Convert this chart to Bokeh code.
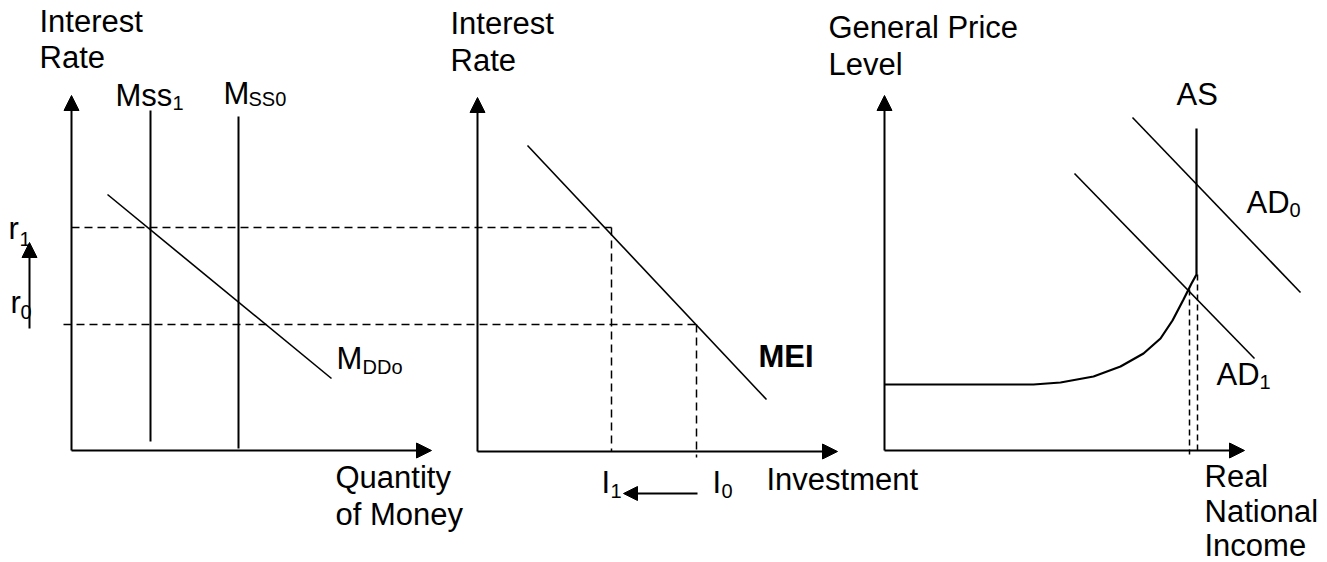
from bokeh.plotting import figure
from bokeh.models import Range1d, Arrow, NormalHead
from bokeh.core.properties import value
from bokeh.embed import file_html
from bokeh.resources import INLINE

# ---- diagram data (reference pixel space, y grows downward) ----
# axes: origin and arrow tips of the three panels
axis_origin_x = [71, 477, 884]
axis_origin_y = [450, 451, 450]
axis_ytip = [95, 97, 95]
axis_xtip = [431, 837, 1244]

# Panel 1: money market
mss_x = [150, 238]
mss_top = [110, 116]
mss_bottom = [441, 448]
mdd_x = [107, 331]
mdd_y = [194, 378]

# interest-rate levels (r1, r0) and their dashed guides
rate_y = [227, 324]
rate_dash_x0 = [71, 63]
rate_dash_x1 = [611, 696]

# Panel 2: investment
mei_x = [527, 766]
mei_y = [145, 399]
inv_x = [611, 696]          # I1, I0
inv_dash_bottom = [451, 457]

# Panel 3: AD / AS
as_x = [884, 1033, 1060, 1093, 1120, 1143, 1160, 1172, 1183, 1191, 1196, 1196]
as_y = [384, 384, 382, 376, 366, 353, 338, 320, 299, 283, 274, 128]
ad0_x = [1132, 1300]
ad0_y = [117, 292]
ad1_x = [1074, 1254]
ad1_y = [173, 358]
y_dash_x = [1189, 1197]
y_dash_top = [289, 274]
y_dash_bottom = [454, 454]

# shift arrows
r_arrow = (29, 328, 29, 242)
i_arrow = (697, 493, 623, 493)

W, H = 1327, 562
p = figure(width=W, height=H, x_range=Range1d(0, W), y_range=Range1d(H, 0),
           output_backend="svg", toolbar_location=None, min_border=0,
           x_axis_type=None, y_axis_type=None)
p.grid.visible = False
p.outline_line_color = None
p.background_fill_color = "white"
p.border_fill_color = "white"

BLACK = "black"

def arrow(x0, y0, x1, y1, lw=2, size=15):
    p.add_layout(Arrow(end=NormalHead(size=size, fill_color=BLACK, line_color=BLACK, line_width=1),
                       x_start=x0, y_start=y0, x_end=x1, y_end=y1,
                       line_color=BLACK, line_width=lw))

# axes
for ox, oy, yt, xt in zip(axis_origin_x, axis_origin_y, axis_ytip, axis_xtip):
    arrow(ox, oy, ox, yt)
    arrow(ox, oy, xt, oy)

# money supply verticals
p.segment(x0=mss_x, y0=mss_top, x1=mss_x, y1=mss_bottom, line_color=BLACK, line_width=2)
# money demand
p.line(mdd_x, mdd_y, line_color=BLACK, line_width=1.6)
# MEI
p.line(mei_x, mei_y, line_color=BLACK, line_width=1.6)
# AS curve
p.line(as_x, as_y, line_color=BLACK, line_width=2.2)
# AD curves
p.line(ad0_x, ad0_y, line_color=BLACK, line_width=1.6)
p.line(ad1_x, ad1_y, line_color=BLACK, line_width=1.6)

# dashed guides
p.segment(x0=rate_dash_x0, y0=rate_y, x1=rate_dash_x1, y1=rate_y,
          line_color=BLACK, line_width=1.5, line_dash="8 5")
p.segment(x0=inv_x, y0=rate_y, x1=inv_x, y1=inv_dash_bottom,
          line_color=BLACK, line_width=1.5, line_dash="8 5")
p.segment(x0=y_dash_x, y0=y_dash_top, x1=y_dash_x, y1=y_dash_bottom,
          line_color=BLACK, line_width=1.5, line_dash="6 4")

# shift arrows
arrow(*r_arrow, lw=2, size=15)
arrow(*i_arrow, lw=2, size=14)

# ---- labels ----
FONT = value("Liberation Sans")

def label(x, y, t, size=31, bold=False):
    dy = 11 if size > 25 else 7   # renderer places alphabetic baseline lower; compensate
    p.text(x=[x], y=[y - dy], text=[t], text_font=FONT, text_font_size=f"{size}px",
           text_font_style="bold" if bold else "normal",
           text_color=BLACK, text_align="left", text_baseline="alphabetic")

label(39, 32, "Interest"); label(39, 68, "Rate")
label(450, 34, "Interest"); label(450, 71, "Rate")
label(828, 38, "General Price"); label(828, 75, "Level")

label(115, 106, "Mss"); label(172, 109, "1", 20)
label(223, 104, "M"); label(248, 105, "SS0", 20)
label(336, 369, "M"); label(362, 373, "DDo", 20)

label(8, 239, "r"); label(19, 245, "1", 20)
label(10, 313, "r"); label(20, 318, "0", 20)

label(335, 488, "Quantity"); label(335, 525, "of Money")

label(758, 367, "MEI", bold=True)
label(601, 493, "I"); label(610, 497, "1", 20)
label(712, 493, "I"); label(721, 497, "0", 20)
label(766, 490, "Investment")

label(1176, 105, "AS")
label(1246, 213, "AD"); label(1289, 216, "0", 20)
label(1216, 385, "AD"); label(1259, 388, "1", 20)
label(1204, 487, "Real"); label(1204, 522, "National"); label(1204, 556, "Income")

open("out.html", "w").write(file_html(p, INLINE))
